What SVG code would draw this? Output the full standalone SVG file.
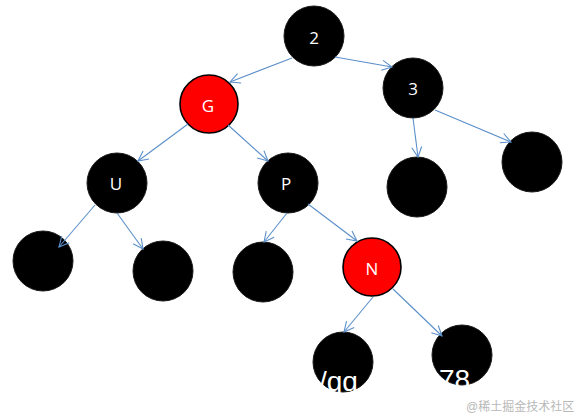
<svg xmlns="http://www.w3.org/2000/svg" width="580" height="418" viewBox="0 0 580 418">
<defs>
<style>
.blk{fill:#000;stroke:#1a1a1a;stroke-width:1}
.red{fill:#ff0000;stroke:#000;stroke-width:1.6}
.lbl{fill:#fff;font-family:"Open Sans","Noto Sans","DejaVu Sans",sans-serif;font-size:17px;text-anchor:middle}
.edge{stroke:#5b8fc9;stroke-width:1.1;fill:none;marker-end:url(#arr)}
.wm{fill:#fff;font-family:"Liberation Sans",Arial,sans-serif;font-size:28px}
.wm2{fill:#b8b8b8;font-family:"Liberation Sans","Noto Sans CJK SC",sans-serif;font-size:12px}
</style>
<marker id="arr" viewBox="0 0 12 12" refX="11" refY="6" markerWidth="12" markerHeight="12" markerUnits="userSpaceOnUse" orient="auto">
<path d="M1,1 L11,6 L1,11" fill="none" stroke="#5b8fc9" stroke-width="1.1"/>
</marker>
</defs>
<rect width="580" height="418" fill="#fff"/>
<g id="n2"><circle class="blk" cx="314" cy="36" r="30"/><text class="lbl" x="314" y="44">2</text></g>
<g id="n3"><circle class="blk" cx="413" cy="88" r="30"/><text class="lbl" x="413" y="95">3</text></g>
<g id="nG"><circle class="red" cx="209" cy="104" r="29"/><text class="lbl" x="208" y="112">G</text></g>
<g id="nU"><circle class="blk" cx="117" cy="183" r="30"/><text class="lbl" x="116" y="190">U</text></g>
<g id="nP"><circle class="blk" cx="288" cy="183" r="30"/><text class="lbl" x="286" y="190">P</text></g>
<g id="nU_l"><circle class="blk" cx="43" cy="261" r="30"/></g>
<g id="nU_r"><circle class="blk" cx="163" cy="271" r="30"/></g>
<g id="nP_l"><circle class="blk" cx="263" cy="272" r="30"/></g>
<g id="nN"><circle class="red" cx="372" cy="267" r="29"/><text class="lbl" x="372" y="275">N</text></g>
<g id="n3_l"><circle class="blk" cx="417" cy="187" r="30"/></g>
<g id="n3_r"><circle class="blk" cx="532" cy="162" r="30"/></g>
<g id="nN_l"><circle class="blk" cx="343" cy="362" r="30"/></g>
<g id="nN_r"><circle class="blk" cx="462" cy="355" r="30"/></g>
<g id="connectors">
<line class="edge" x1="292" y1="58" x2="230" y2="82"/>
<line class="edge" x1="335" y1="57" x2="392" y2="67"/>
<line class="edge" x1="188" y1="124" x2="138" y2="161"/>
<line class="edge" x1="228" y1="125" x2="268" y2="161"/>
<line class="edge" x1="95" y1="205" x2="59" y2="247"/>
<line class="edge" x1="117" y1="213" x2="143" y2="249"/>
<line class="edge" x1="287" y1="213" x2="264" y2="242"/>
<line class="edge" x1="308" y1="204" x2="357" y2="241"/>
<line class="edge" x1="373" y1="297" x2="344" y2="332"/>
<line class="edge" x1="393" y1="289" x2="442" y2="336"/>
<line class="edge" x1="413" y1="118" x2="418" y2="157"/>
<line class="edge" x1="435" y1="110" x2="511" y2="142"/>
</g>
<text class="wm" x="319" y="391">/qq</text>
<text class="wm" x="439" y="389">78</text>
<text class="wm2" x="466" y="411">@稀土掘金技术社区</text>
</svg>
